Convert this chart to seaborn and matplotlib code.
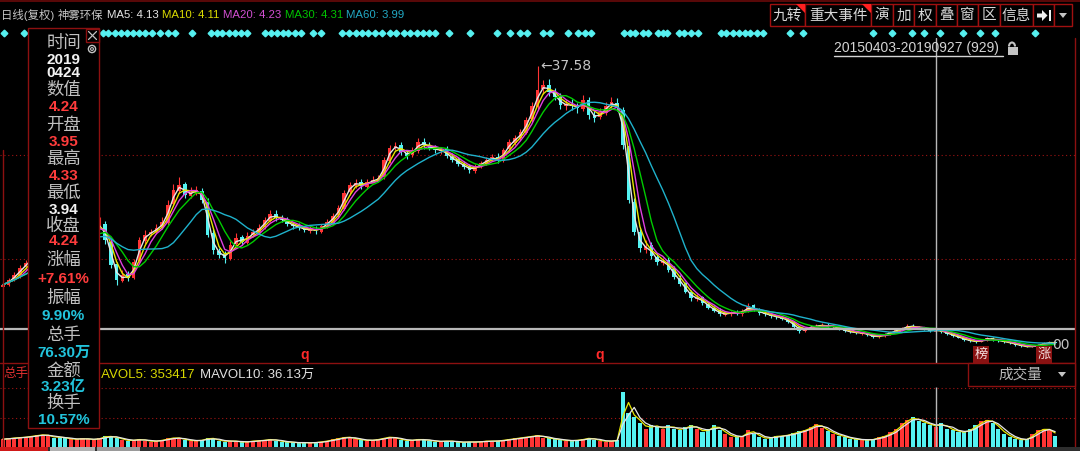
import numpy as np
import pandas as pd
import matplotlib
matplotlib.use("Agg")
import matplotlib.pyplot as plt
import matplotlib.transforms as mtrans
from matplotlib.patches import Rectangle, Polygon, Circle, Arc
import seaborn as sns

# ---------------- data (weekly bars, 5 trading days each, 20150403-20190927) ----------------
closes = [
    9.9, 10.5, 11.1, 12.0, 12.6, 13.5, 14.8, 16.0, 17.2, 16.5,
    15.0, 13.8, 14.5, 15.6, 16.4, 16.9, 17.3, 17.4, 15.5, 12.4,
    10.5, 11.1, 10.7, 12.8, 15.5, 16.2, 16.6, 17.1, 17.8, 20.0,
    21.9, 22.5, 21.2, 21.6, 21.9, 20.6, 16.2, 14.3, 13.7, 13.3,
    14.9, 15.8, 15.3, 16.1, 16.6, 17.1, 18.1, 18.8, 18.3, 18.1,
    17.6, 17.3, 17.1, 16.8, 16.9, 16.7, 17.3, 17.8, 18.6, 19.6,
    21.5, 22.5, 22.8, 22.4, 22.9, 23.1, 23.4, 25.7, 27.2, 27.4,
    26.7, 26.2, 26.9, 27.9, 27.6, 27.2, 26.9, 26.9, 26.2, 25.7,
    25.2, 24.8, 24.4, 24.8, 25.3, 25.7, 26.0, 25.7, 26.9, 27.9,
    28.4, 29.2, 30.7, 32.5, 34.5, 35.1, 34.3, 33.6, 32.6, 32.7,
    32.5, 32.2, 33.2, 31.4, 31.0, 31.7, 32.5, 33.0, 32.2, 27.6,
    20.6, 16.6, 14.5, 14.8, 13.5, 12.8, 12.9, 11.8, 10.9, 10.0,
    9.0, 8.2, 8.2, 7.6, 7.0, 6.6, 6.2, 6.2, 6.4, 6.3,
    6.6, 7.2, 6.7, 6.3, 6.2, 5.9, 5.8, 5.6, 5.2, 4.6,
    4.0, 4.4, 4.6, 4.7, 4.8, 4.6, 4.6, 4.3, 4.0, 3.9,
    3.8, 3.8, 3.5, 3.3, 3.4, 3.7, 3.9, 4.2, 4.4, 4.7,
    4.6, 4.4, 4.3, 4.0, 4.24, 3.9, 3.7, 3.4, 3.2, 2.9,
    2.8, 2.65, 2.9, 3.2, 2.9, 2.8, 2.65, 2.5, 2.3, 2.15,
    2.0, 2.15, 2.3, 2.5, 2.65, 2.5]

opens = [
    9.6, 9.9, 10.6, 11.0, 12.1, 12.5, 13.6, 14.7, 16.1, 17.0,
    16.4, 15.1, 13.7, 14.6, 15.5, 16.5, 16.8, 17.2, 17.6, 15.3,
    12.5, 10.4, 11.2, 10.8, 12.9, 15.4, 16.3, 16.5, 17.2, 17.7,
    20.1, 21.8, 22.6, 21.1, 21.7, 21.8, 20.4, 16.4, 14.2, 13.8,
    13.2, 15.0, 15.9, 15.2, 16.2, 16.5, 17.2, 18.0, 18.9, 18.2,
    18.2, 17.5, 17.4, 17.0, 16.7, 17.0, 16.6, 17.4, 17.7, 18.7,
    19.5, 21.6, 22.4, 22.9, 22.3, 23.0, 23.2, 23.5, 25.6, 27.3,
    27.5, 26.6, 26.3, 26.8, 28.0, 27.5, 27.3, 26.8, 27.0, 26.1,
    25.8, 25.1, 24.9, 24.3, 24.9, 25.2, 25.8, 26.1, 25.6, 27.0,
    27.8, 28.5, 29.1, 30.8, 32.4, 34.6, 35.2, 34.2, 33.7, 32.5,
    32.8, 32.4, 32.1, 33.3, 31.3, 31.1, 31.6, 32.6, 32.9, 32.0,
    27.4, 20.4, 16.5, 14.3, 14.9, 13.4, 12.7, 13.0, 11.9, 10.8,
    10.1, 9.0, 8.1, 8.3, 7.5, 7.0, 6.7, 6.1, 6.2, 6.5,
    6.2, 6.6, 7.3, 6.8, 6.3, 6.2, 5.9, 5.8, 5.6, 5.2,
    4.6, 4.0, 4.4, 4.6, 4.7, 4.8, 4.5, 4.6, 4.3, 4.0,
    3.9, 3.7, 3.8, 3.5, 3.3, 3.4, 3.7, 3.9, 4.2, 4.4,
    4.7, 4.6, 4.4, 4.3, 3.95, 4.2, 3.9, 3.7, 3.4, 3.2,
    2.9, 2.8, 2.65, 2.9, 3.2, 2.9, 2.8, 2.65, 2.5, 2.3,
    2.15, 2.0, 2.15, 2.3, 2.5, 2.65]

highs = [
    10.2, 10.8, 11.5, 12.4, 13.0, 14.0, 15.3, 16.6, 17.8, 17.5,
    16.8, 15.4, 14.9, 16.0, 16.8, 17.3, 17.8, 18.4, 17.9, 15.6,
    12.8, 11.8, 11.6, 13.2, 15.9, 16.8, 17.0, 17.6, 18.5, 20.6,
    22.6, 23.5, 22.9, 22.2, 22.4, 22.1, 20.8, 16.9, 14.6, 14.1,
    15.4, 16.4, 16.2, 16.6, 17.0, 17.6, 18.5, 19.4, 19.3, 18.7,
    18.5, 17.8, 17.7, 17.3, 17.3, 17.3, 17.6, 18.2, 19.0, 20.0,
    21.9, 22.9, 23.2, 23.2, 23.3, 23.6, 23.8, 26.1, 27.6, 28.0,
    27.9, 26.9, 27.3, 28.4, 28.5, 27.9, 27.6, 27.3, 27.4, 26.5,
    26.1, 25.5, 25.2, 25.2, 25.6, 26.0, 26.4, 26.5, 27.2, 28.3,
    28.8, 29.6, 31.1, 33.0, 37.58, 35.8, 35.9, 34.8, 34.1, 33.2,
    33.4, 32.9, 33.9, 33.6, 31.9, 32.2, 33.0, 33.6, 33.5, 32.4,
    27.8, 20.8, 16.9, 15.6, 15.3, 13.8, 13.3, 13.4, 12.2, 11.1,
    10.3, 9.2, 8.7, 8.5, 7.7, 7.2, 6.9, 6.5, 6.6, 6.7,
    6.8, 7.6, 7.5, 6.9, 6.5, 6.3, 6.1, 5.9, 5.7, 5.3,
    4.7, 4.6, 4.8, 4.9, 5.0, 5.0, 4.8, 4.7, 4.4, 4.1,
    4.0, 3.9, 3.9, 3.6, 3.5, 3.8, 4.0, 4.3, 4.6, 4.9,
    4.9, 4.7, 4.5, 4.4, 4.33, 4.3, 4.0, 3.8, 3.5, 3.3,
    3.0, 2.9, 3.0, 3.3, 3.3, 3.0, 2.9, 2.75, 2.6, 2.4,
    2.2, 2.2, 2.4, 2.6, 2.8, 2.75]

lows = [
    9.4, 9.7, 10.4, 10.8, 11.9, 12.3, 13.4, 14.5, 15.9, 16.2,
    14.7, 13.4, 13.4, 14.4, 15.3, 16.3, 16.6, 16.9, 15.1, 12.0,
    9.9, 10.2, 10.4, 10.6, 12.7, 15.1, 16.0, 16.3, 17.0, 17.5,
    19.8, 21.5, 20.8, 20.9, 21.3, 20.2, 15.9, 13.8, 13.3, 12.6,
    13.0, 14.7, 14.9, 15.0, 15.9, 16.3, 17.0, 17.8, 18.0, 17.8,
    17.3, 17.0, 16.8, 16.5, 16.4, 16.3, 16.4, 17.1, 17.5, 18.4,
    19.3, 21.3, 22.1, 22.0, 22.0, 22.7, 22.9, 23.2, 25.3, 26.9,
    26.3, 25.8, 26.0, 26.6, 27.1, 26.9, 26.5, 26.4, 25.9, 25.4,
    24.9, 24.5, 24.0, 24.0, 24.6, 25.0, 25.5, 25.3, 25.4, 26.7,
    27.5, 28.2, 28.9, 30.5, 32.1, 34.0, 33.8, 33.2, 32.1, 32.0,
    32.0, 31.6, 31.8, 30.8, 30.5, 30.8, 31.3, 32.2, 31.8, 27.1,
    20.2, 16.2, 14.0, 13.9, 13.1, 12.4, 12.4, 11.5, 10.6, 9.7,
    8.8, 7.9, 7.8, 7.3, 6.8, 6.4, 6.0, 5.9, 6.0, 6.1,
    6.0, 6.4, 6.6, 6.1, 6.0, 5.7, 5.6, 5.4, 5.0, 4.4,
    3.8, 3.9, 4.3, 4.4, 4.5, 4.4, 4.3, 4.2, 3.9, 3.8,
    3.7, 3.6, 3.4, 3.2, 3.2, 3.3, 3.6, 3.8, 4.1, 4.3,
    4.4, 4.3, 4.2, 3.9, 3.94, 3.8, 3.6, 3.3, 3.1, 2.8,
    2.7, 2.55, 2.6, 2.8, 2.8, 2.7, 2.55, 2.4, 2.2, 2.05,
    2.0, 2.0, 2.1, 2.25, 2.4, 2.4]

volumes = [  # 万手 (average per day)
    10, 11, 12, 12, 13, 14, 15, 16, 14, 12,
    13, 11, 10, 10, 11, 10, 9, 12, 14, 13,
    12, 9, 8, 9, 10, 8, 7, 8, 9, 11,
    12, 11, 9, 8, 8, 9, 12, 10, 8, 7,
    8, 7, 6, 7, 8, 8, 9, 10, 8, 7,
    6, 6, 5, 6, 5, 6, 7, 8, 10, 11,
    13, 12, 10, 9, 8, 9, 10, 12, 13, 11,
    9, 8, 9, 10, 9, 8, 7, 7, 8, 7,
    6, 6, 7, 6, 7, 8, 7, 8, 9, 10,
    11, 12, 13, 14, 15, 12, 11, 10, 9, 8,
    8, 9, 10, 12, 9, 8, 7, 8, 9, 70,
    44, 38, 31, 23, 28, 26, 23, 28, 23, 22,
    26, 28, 23, 19, 23, 28, 22, 17, 13, 13,
    14, 22, 17, 13, 10, 13, 14, 14, 16, 18,
    20, 22, 26, 30, 24, 20, 17, 14, 13, 10,
    10, 9, 9, 10, 13, 14, 19, 23, 31, 35,
    38, 33, 31, 28, 26, 31, 23, 22, 19, 19,
    23, 28, 33, 35, 31, 23, 17, 13, 10, 9,
    10, 17, 22, 23, 22, 14]

# event markers, as trading-day index from 20150403
diamond_days = [3, 21, 90, 94, 101, 106, 111, 116, 122, 127, 133, 140, 147, 153, 168,
                185, 190, 195, 201, 206, 211, 217, 232, 238, 243, 248, 253, 259, 264,
                275, 282, 300, 306, 312, 318, 323, 329, 335, 342, 348, 355, 360, 366,
                371, 377, 382, 394, 413, 436, 448, 457, 463, 477, 483, 499, 508, 514,
                519, 548, 553, 558, 565, 569, 578, 582, 586, 596, 601, 607, 613, 633,
                638, 644, 649, 654, 659, 665, 670, 694, 705, 767, 784, 801, 812, 826,
                846, 861, 874, 909]
q_days = [267, 527]
tag_days = [862, 917]
tag_texts = ["榜", "涨"]

cross_bar = 164          # 20190424
cross_price = 4.24
cross_volume = 76.30     # 万
price_grid = [13.2, 26.35]
volume_grid = [37.3, 75.9]
peak_value = 37.58

header_items = ["日线(复权)", "神雾环保", "MA5: 4.13", "MA10: 4.11", "MA20: 4.23", "MA30: 4.31", "MA60: 3.99"]
ma_names = ["MA5", "MA10", "MA20", "MA30", "MA60"]
ma_windows = [2, 3, 4, 6, 12]
panel_rows = [("时间", "l"), ("2019", "w"), ("0424", "w"), ("数值", "l"), ("4.24", "r"),
              ("开盘", "l"), ("3.95", "r"), ("最高", "l"), ("4.33", "r"), ("最低", "l"),
              ("3.94", "w"), ("收盘", "l"), ("4.24", "r"), ("涨幅", "l"), ("+7.61%", "r"),
              ("振幅", "l"), ("9.90%", "c"), ("总手", "l"), ("76.30万", "c"), ("金额", "l"),
              ("3.23亿", "c"), ("换手", "l"), ("10.57%", "c")]
buttons = ["九转", "重大事件", "演", "加", "权", "叠", "窗", "区", "信息", "", ""]
date_range_text = "20150403-20190927 (929)"
vol_title_1 = "MAVOL5: 353417"
vol_title_2 = "MAVOL10: 36.13万"

# ---------------- style ----------------
sns.set_theme(style="dark", rc={"axes.facecolor": "black", "figure.facecolor": "black",
                                 "axes.grid": False, "axes.edgecolor": "black"})
plt.rcParams["font.family"] = ["Noto Sans CJK SC", "DejaVu Sans"]

RED = "#ff3434"
CYAN = "#54f2f2"
GRAY = "#c4c4c4"
DRED = "#8c1010"
LATIN = ["Liberation Sans", "Noto Sans CJK SC", "DejaVu Sans"]

W, H = 1080, 451
fig = plt.figure(figsize=(W / 100, H / 100), dpi=100)
fig.patch.set_facecolor("black")


def rect_px(x0, y0, x1, y1):
    return [x0 / W, 1 - y1 / H, (x1 - x0) / W, (y1 - y0) / H]


ax = fig.add_axes(rect_px(0, 38, 1075, 363))
av = fig.add_axes(rect_px(0, 363, 1075, 447))
ov = fig.add_axes([0, 0, 1, 1])
ov.set_zorder(10)
ov.set_xlim(0, W)
ov.set_ylim(H, 0)
ov.axis("off")
ov.patch.set_alpha(0)

o = np.array(opens)
c = np.array(closes)
h = np.array(highs)
l = np.array(lows)
v = np.array(volumes, dtype=float)
N = len(c)
assert len(o) == len(h) == len(l) == len(v) == N
idx = np.arange(N)
bar_px = 1058 / N
x_right = -0.5 + 1075 / bar_px


def day_to_bar(d):
    return (np.asarray(d, dtype=float) - 2) / 5


up = c >= o
ccol = np.where(up, RED, CYAN)

# ---------------- price panel ----------------
for g in price_grid:
    ax.axhline(g, color="#a01414", linestyle=(0, (1, 2.5)), linewidth=0.8, zorder=1)
ax.vlines(idx, l, h, colors=ccol, linewidth=0.8, zorder=2)
ax.bar(idx, np.maximum(np.abs(c - o), 0.06), bottom=np.minimum(o, c), width=0.62,
       color=ccol, linewidth=0, zorder=3)

df = pd.DataFrame({"bar": idx, "close": c, "vol": v})
ma_colors = ["#e6e6e6", "#e6e600", "#e040e0", "#00cc00", "#1fb2cc"]
for name, win, col in zip(ma_names, ma_windows, ma_colors):
    df[name] = df["close"].rolling(win, min_periods=1).mean()
    sns.lineplot(data=df, x="bar", y=name, ax=ax, color=col, linewidth=1.0, zorder=4, legend=False)

ax.axhline(cross_price, color="#b8b8b8", linewidth=1.6, zorder=6)
ax.axvline(cross_bar, color="#b8b8b8", linewidth=1.0, zorder=6)

peak_bar = int(np.argmax(h))
ax.annotate(f"←{peak_value:.2f}", xy=(peak_bar, peak_value), xytext=(2, 0), textcoords="offset points",
            ha="left", va="center", color=GRAY, fontsize=10, family="DejaVu Sans", zorder=7)

ax.set_xlim(-0.5, x_right)
ax.set_ylim(0, 325 / 7.91)
ax.axis("off")

# ---------------- volume panel ----------------
for g in volume_grid:
    av.axhline(g, color="#a01414", linestyle=(0, (1, 2.5)), linewidth=0.8, zorder=1)
av.bar(idx, v, width=0.72, color=ccol, linewidth=0, zorder=2)
df["MAVOL5"] = df["vol"].rolling(2, min_periods=1).mean()
df["MAVOL10"] = df["vol"].rolling(3, min_periods=1).mean()
sns.lineplot(data=df, x="bar", y="MAVOL5", ax=av, color="#e6e600", linewidth=0.9, zorder=3, legend=False)
sns.lineplot(data=df, x="bar", y="MAVOL10", ax=av, color="#e6e6e6", linewidth=0.9, zorder=3, legend=False)
av.vlines(cross_bar, 0, cross_volume, color="#b8b8b8", linewidth=1.0, zorder=4)
av.set_xlim(-0.5, x_right)
av.set_ylim(0, 84 * 1.28)
av.axis("off")

# ---------------- overlay (UI chrome) ----------------
ov.plot([0, W], [0.6, 0.6], color="#6a0a0a", lw=1.2)
ov.plot([0, 1075], [363, 363], color=DRED, lw=1)
ov.plot([1075, 1075], [38, 447], color=DRED, lw=1)
ov.plot([2.5, 2.5], [150, 447], color=DRED, lw=1)

# header texts, laid out one after another
renderer = fig.canvas.get_renderer()
header_c = [GRAY, GRAY, "#e6e6e6", "#dcdc00", "#d24fd2", "#00c400", "#22a9c4"]
hx = 1.0
for t, col in zip(header_items, header_c):
    txt = ov.text(hx, 15, t, color=col, fontsize=8.2, ha="left", va="center", family=LATIN)
    hx += txt.get_window_extent(renderer).width + 3.5

# buttons
edges = [770, 805, 871, 893, 914, 936, 957, 978, 1000, 1033, 1054, 1072]
for i, lab in enumerate(buttons):
    x0, x1 = edges[i], edges[i + 1]
    ov.add_patch(Rectangle((x0, 4), x1 - x0, 22, fc="black", ec="#a01010", lw=1, zorder=5))
    if lab:
        ov.text((x0 + x1) / 2, 15.5, lab, color="#d8d8d8", fontsize=10.5, ha="center", va="center", zorder=6)
for i in (0, 1):
    x1 = edges[i + 1]
    ov.add_patch(Polygon([(x1 - 9, 4), (x1, 4), (x1, 13)], closed=True, fc="#ff2020", ec="none", zorder=7))
ov.add_patch(Polygon([(1037, 13.5), (1042, 13.5), (1042, 10), (1047.5, 15.5), (1042, 21), (1042, 17.5), (1037, 17.5)],
                     closed=True, fc="#f0f0f0", ec="none", zorder=7))
ov.add_patch(Rectangle((1048.5, 10), 2, 11, fc="#f0f0f0", ec="none", zorder=7))
ov.add_patch(Polygon([(1059, 13), (1067, 13), (1063, 18)], closed=True, fc=GRAY, ec="none", zorder=7))

# date range + lock
ov.text(834, 48, date_range_text, color="#d4d4d4", fontsize=10, ha="left", va="center", family=LATIN, zorder=6)
ov.plot([834, 1003], [56, 56], color="#d4d4d4", lw=1, zorder=6)
ov.add_patch(Rectangle((1008, 47), 10, 8, fc=GRAY, ec="none", zorder=6))
ov.add_patch(Arc((1012, 46.5), 6, 8, theta1=180, theta2=360, color=GRAY, lw=1.5, zorder=6))

# event diamonds, q markers and tags (x from the chart scale)
tx = mtrans.blended_transform_factory(ax.transData, ov.transData)
ddays = day_to_bar(diamond_days)
ov.plot(ddays, np.full(len(ddays), 33.0), linestyle="none", marker="D", markersize=3.4,
        color="#56f0f0", transform=tx, clip_on=False, zorder=3)
for d in q_days:
    ov.text(day_to_bar(d), 355, "q", color="#ff2a2a", fontsize=10, fontweight="bold",
            ha="center", va="center", transform=tx, family=LATIN, zorder=4)
for d, t in zip(tag_days, tag_texts):
    ov.text(day_to_bar(d), 354.5, t, color="#f4dede", fontsize=9.5, ha="center", va="center",
            transform=tx, zorder=8,
            bbox=dict(boxstyle="square,pad=0.12", fc="#8a1212", ec="none"))

# lowest-price label, just right of the last tag (its arrow part sits behind the tag)
low_bar = int(np.argmin(l))
ov.text(day_to_bar(tag_days[-1]) + 1.5, 345, f"{l[low_bar]:.2f}"[-2:], color=GRAY, fontsize=10,
        ha="left", va="center", transform=tx, family="DejaVu Sans", zorder=7)

# volume panel title
ov.text(195, 375, vol_title_1, color="#d8d800", fontsize=9.5, ha="right", va="center", family=LATIN, zorder=4)
ov.text(200, 375, vol_title_2, color="#e0e0e0", fontsize=9.5, ha="left", va="center", family=LATIN, zorder=4)
ov.text(16, 373, "总手", color="#e03030", fontsize=9, ha="center", va="center", zorder=4)

# 成交量 box
ov.add_patch(Rectangle((968, 363), 107, 23, fc="black", ec=DRED, lw=1, zorder=5))
ov.text(1020, 375, "成交量", color="#b8b8b8", fontsize=10.5, ha="center", va="center", zorder=6)
ov.add_patch(Polygon([(1058, 372), (1066, 372), (1062, 377)], closed=True, fc=GRAY, ec="none", zorder=6))

# info panel
ov.add_patch(Rectangle((28, 28), 71, 400, fc="black", ec=DRED, lw=1, zorder=20))
ov.add_patch(Rectangle((86, 29), 13, 13, fc="black", ec=DRED, lw=1, zorder=21))
ov.plot([88.5, 96.5], [31.5, 39.5], color=GRAY, lw=0.9, zorder=22)
ov.plot([88.5, 96.5], [39.5, 31.5], color=GRAY, lw=0.9, zorder=22)
ov.add_patch(Circle((92, 49), 3.6, fill=False, ec=GRAY, lw=1, zorder=22))
ov.add_patch(Circle((92, 49), 1.4, fill=False, ec=GRAY, lw=0.8, zorder=22))
row_y = [43, 60, 73, 90, 107, 125, 142, 159, 176, 193, 210, 226, 241, 260, 279, 298, 316,
         335, 353, 372, 387, 403, 420]
kind_col = {"l": "#c0c0c0", "w": "#f2f2f2", "r": "#ff3c3c", "c": "#22c4dc"}
for (t, k), y in zip(panel_rows, row_y):
    if k == "l":
        ov.text(63.5, y, t, color=kind_col[k], fontsize=12.5, ha="center", va="center", zorder=23)
    else:
        ov.text(63.5, y, t, color=kind_col[k], fontsize=11, fontweight="bold", ha="center",
                va="center", family=LATIN, zorder=23)

# bottom scroll strip
ov.add_patch(Rectangle((0, 447), W, 4, fc="#2e2e2e", ec="none", zorder=5))
ov.add_patch(Rectangle((0, 447), 48, 4, fc="#d01818", ec="none", zorder=6))
ov.add_patch(Rectangle((50, 447), 45, 4, fc="#b0b0b0", ec="none", zorder=6))
ov.add_patch(Rectangle((97, 447), 43, 4, fc="#9a9a9a", ec="none", zorder=6))

fig.savefig("out.png", dpi=100, facecolor="black")
